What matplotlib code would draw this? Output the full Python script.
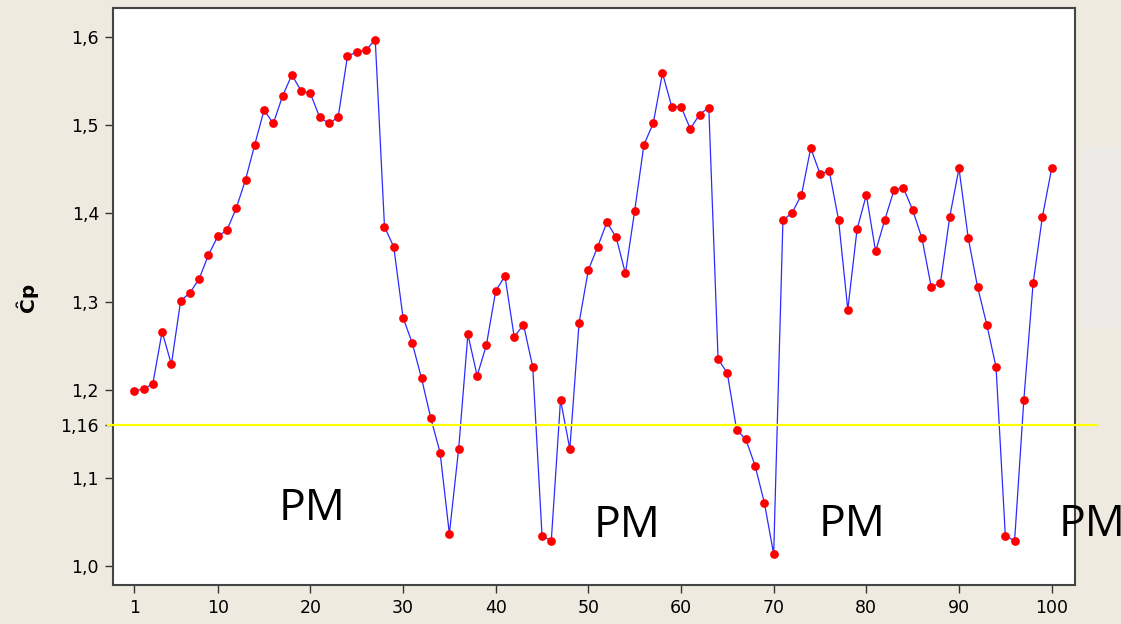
import numpy as np
import matplotlib.pyplot as plt
from matplotlib.patches import Rectangle
import matplotlib.transforms as mtransforms

# sample number and Cp estimate
sample = np.arange(1, 101)
cp = [1.199, 1.201, 1.207, 1.266, 1.229, 1.301, 1.310, 1.326, 1.353, 1.374,
      1.381, 1.406, 1.438, 1.478, 1.517, 1.502, 1.533, 1.557, 1.539, 1.536,
      1.509, 1.502, 1.509, 1.578, 1.583, 1.585, 1.597, 1.385, 1.362, 1.282,
      1.253, 1.213, 1.168, 1.129, 1.037, 1.133, 1.263, 1.216, 1.251, 1.312,
      1.329, 1.260, 1.274, 1.226, 1.035, 1.029, 1.189, 1.133, 1.276, 1.336,
      1.362, 1.390, 1.373, 1.332, 1.403, 1.478, 1.502, 1.559, 1.521, 1.521,
      1.496, 1.512, 1.520, 1.235, 1.219, 1.155, 1.144, 1.114, 1.072, 1.014,
      1.392, 1.401, 1.421, 1.474, 1.445, 1.448, 1.393, 1.291, 1.382, 1.421,
      1.357, 1.393, 1.427, 1.429, 1.404, 1.372, 1.317, 1.321, 1.396, 1.451,
      1.372, 1.317, 1.274, 1.226, 1.035, 1.029, 1.189, 1.321, 1.396, 1.451]

limit = 1.16
yticks = [1.0, 1.1, 1.16, 1.2, 1.3, 1.4, 1.5, 1.6]
ytick_labels = ['1,0', '1,1', '1,16', '1,2', '1,3', '1,4', '1,5', '1,6']
xticks = [1, 10, 20, 30, 40, 50, 60, 70, 80, 90, 100]

bg = '#eeeae0'
fig = plt.figure(figsize=(11.21, 6.24), dpi=100, facecolor=bg)
ax = fig.add_axes([0.1008, 0.0625, 0.858, 0.925])
ax.set_facecolor('white')

# light panel peeking in at the right edge
fig.patches.append(Rectangle((1081 / 1121, 1 - 328 / 624), 40 / 1121, 180 / 624,
                             transform=fig.transFigure, facecolor='#ecebe8',
                             edgecolor='none', zorder=0))

ax.plot(sample, cp, color='#2b2bff', lw=0.9, zorder=2)
ax.plot(sample, cp, 'o', color='#ff0000', ms=6.3, mec='none', zorder=3)

# yellow limit line, running a bit past the frame
trans = mtransforms.blended_transform_factory(ax.transAxes, ax.transData)
ax.plot([-0.005, 1.023], [limit, limit], color='#ffff00', lw=1.6,
        transform=trans, clip_on=False, zorder=4)

ax.set_xlim(-1.3, 102.5)
ax.set_ylim(0.979, 1.633)
ax.set_xticks(xticks)
ax.set_yticks(yticks)
ax.set_yticklabels(ytick_labels)
ax.tick_params(labelsize=12.5, length=6, width=1, color='#333333', pad=4)
for s in ax.spines.values():
    s.set_color('#444444')
    s.set_linewidth(1.5)

fig.text(27 / 1121, 1 - 297 / 624, 'Ĉp', rotation=90, fontsize=14.5,
         fontweight='bold', ha='center', va='center')

# PM annotations (the last one runs off the right edge, as in the original)
pm_pos = [(312, 520), (627, 537), (852, 536), (1092, 536)]
for px, py in pm_pos:
    fig.text(px / 1121, 1 - py / 624, 'PM', fontsize=32, family='Open Sans',
             ha='center', va='baseline')

fig.savefig('out.png', dpi=100, facecolor=bg)
